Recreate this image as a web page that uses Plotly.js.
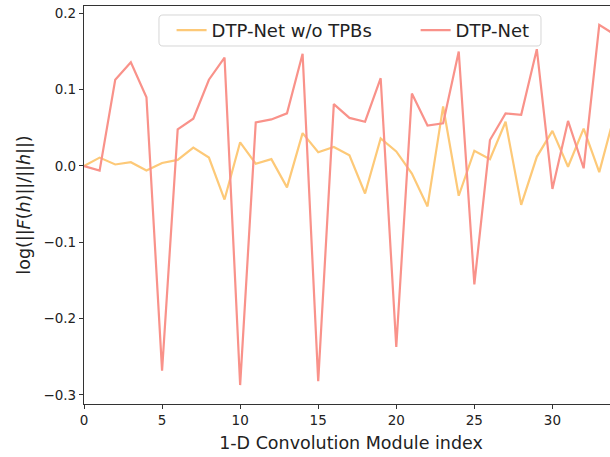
<!DOCTYPE html>
<html>
<head>
<meta charset="utf-8">
<script src="https://cdn.plot.ly/plotly-3.0.1.min.js"></script>
<style>
html, body { margin: 0; padding: 0; overflow: hidden; background: #fff; }
#chart { width: 618px; height: 457px; }
</style>
</head>
<body>
<div id="chart"></div>
<script>
const moduleIndex = [0,1,2,3,4,5,6,7,8,9,10,11,12,13,14,15,16,17,18,19,20,21,22,23,24,25,26,27,28,29,30,31,32,33,34];
const withoutTPBs = [0.000,0.011,0.002,0.005,-0.006,0.004,0.008,0.024,0.011,-0.044,0.031,0.003,0.009,-0.028,0.043,0.018,0.025,0.014,-0.036,0.036,0.019,-0.010,-0.053,0.078,-0.039,0.020,0.009,0.058,-0.051,0.012,0.046,-0.001,0.049,-0.008,0.069];
const dtpNet = [0.000,-0.006,0.113,0.136,0.090,-0.268,0.048,0.062,0.113,0.142,-0.287,0.057,0.061,0.069,0.147,-0.282,0.081,0.063,0.058,0.115,-0.237,0.095,0.053,0.056,0.150,-0.155,0.034,0.069,0.067,0.153,-0.030,0.059,-0.003,0.185,0.172];
const seriesNames = ["DTP-Net w/o TPBs", "DTP-Net"];
const xTicks = [0,5,10,15,20,25,30];
const yTicks = [-0.3,-0.2,-0.1,0.0,0.1,0.2];

const font = "DejaVu Sans, sans-serif";
const traces = [
  { x: moduleIndex, y: withoutTPBs, name: seriesNames[0], type: "scatter", mode: "lines",
    line: { color: "#fdc978", width: 2.2 }, legend: "legend" },
  { x: moduleIndex, y: dtpNet, name: seriesNames[1], type: "scatter", mode: "lines",
    line: { color: "#f9928a", width: 2.2 }, legend: "legend2" }
];
const axisCommon = {
  showline: true, linecolor: "#333", linewidth: 1.1,
  ticks: "outside", ticklen: 4, tickwidth: 1, tickcolor: "#333",
  showgrid: false, zeroline: false,
  tickfont: { family: font, size: 13.5, color: "#222" }
};
const legendCommon = {
  orientation: "h", yanchor: "middle", y: 0.9384, xanchor: "left",
  bgcolor: "rgba(0,0,0,0)", borderwidth: 0,
  font: { family: font, size: 18, color: "#222" }
};
// legend frame (paper coords), rounded rectangle
const fx0 = 0.1404, fx1 = 0.8558, fy0 = 0.8995, fy1 = 0.9774, rx = 0.0075, ry = 0.01;
const framePath = `M ${fx0+rx} ${fy1} L ${fx1-rx} ${fy1} Q ${fx1} ${fy1} ${fx1} ${fy1-ry} L ${fx1} ${fy0+ry} Q ${fx1} ${fy0} ${fx1-rx} ${fy0} L ${fx0+rx} ${fy0} Q ${fx0} ${fy0} ${fx0} ${fy0+ry} L ${fx0} ${fy1-ry} Q ${fx0} ${fy1} ${fx0+rx} ${fy1} Z`;

const layout = {
  width: 618, height: 457,
  margin: { l: 84, r: 0, t: 6, b: 53 },
  paper_bgcolor: "#fff", plot_bgcolor: "#fff",
  font: { family: font, color: "#222" },
  showlegend: true,
  legend: Object.assign({}, legendCommon, { x: 0.164 }),
  legend2: Object.assign({}, legendCommon, { x: 0.621 }),
  shapes: [{
    type: "path", xref: "paper", yref: "paper", path: framePath,
    fillcolor: "rgba(255,255,255,0.8)", line: { color: "#d6d6d6", width: 1 }, layer: "above"
  }],
  xaxis: Object.assign({}, axisCommon, {
    range: [0, 34.2], tickvals: xTicks, mirror: true,
    title: { text: "1-D Convolution Module index", font: { family: font, size: 17.5, color: "#222" }, standoff: 9 }
  }),
  yaxis: Object.assign({}, axisCommon, {
    range: [-0.3118, 0.2096], tickvals: yTicks, tickformat: ".1f",
    title: { text: "log(||<i>F</i>(<i>h</i>)||/||<i>h</i>||)", font: { family: font, size: 17.5, color: "#222" }, standoff: 8 }
  })
};
Plotly.newPlot("chart", traces, layout, { displayModeBar: false, staticPlot: true });
</script>
</body>
</html>
